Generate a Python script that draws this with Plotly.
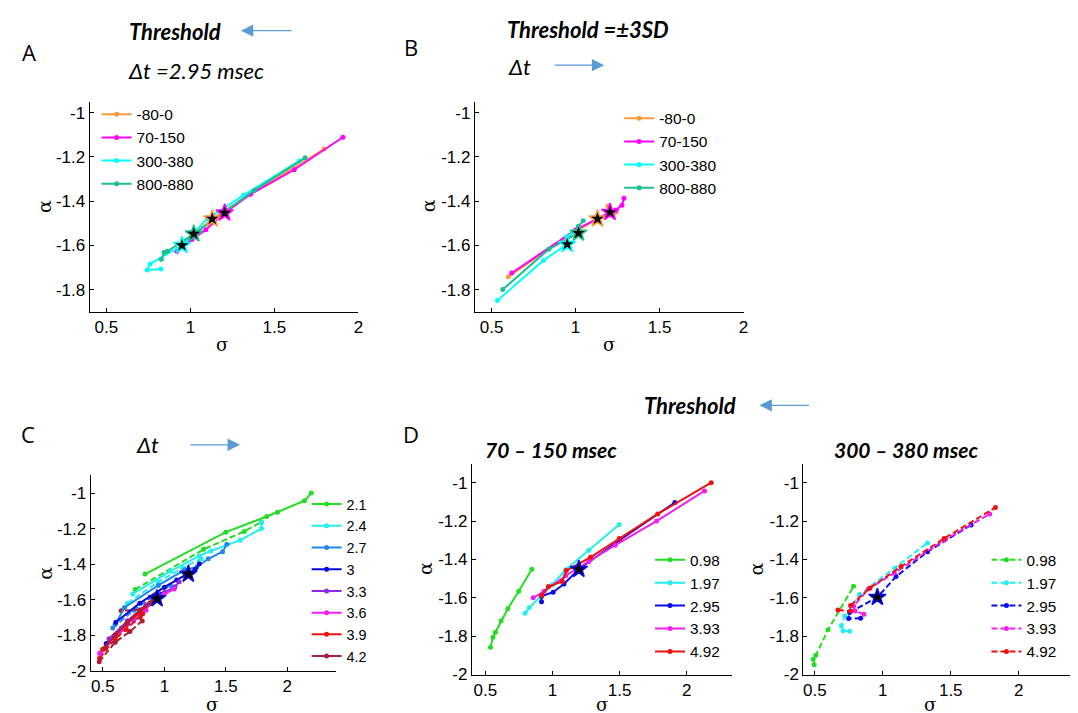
import plotly.graph_objects as go

W, H = 1078, 713

# ---------------- DATA ----------------
win_names = ["-80-0", "70-150", "300-380", "800-880"]
win_colors = ["#ff9a3c", "#ff00ff", "#00ffff", "#1dbf90"]

# Panel A (threshold varies, dt = 2.95 msec)
A_x = [
    [0.93, 0.97, 1.05, 1.13, 1.35, 1.58, 1.796],
    [0.92, 1.009, 1.092, 1.204, 1.358, 1.618, 1.908],
    [0.825, 0.743, 0.76, 0.95, 1.10, 1.317, 1.648],
    [0.827, 0.843, 0.863, 1.02, 1.20, 1.38, 1.683],
]
A_y = [
    [-1.61, -1.585, -1.535, -1.48, -1.37, -1.265, -1.164],
    [-1.627, -1.573, -1.529, -1.453, -1.369, -1.258, -1.111],
    [-1.707, -1.711, -1.684, -1.60, -1.48, -1.373, -1.218],
    [-1.663, -1.632, -1.627, -1.548, -1.45, -1.351, -1.204],
]
A_star_x = [1.13, 1.204, 0.95, 1.02]
A_star_y = [-1.48, -1.453, -1.60, -1.548]

# Panel B (threshold = +-3SD, dt varies)
B_x = [
    [0.60, 0.96, 1.13, 1.24, 1.193],
    [0.62, 1.00, 1.205, 1.24, 1.276, 1.288],
    [0.535, 0.81, 0.95, 0.95, 0.986],
    [0.566, 0.84, 1.017, 1.016, 1.045],
]
B_y = [
    [-1.742, -1.555, -1.48, -1.45, -1.422],
    [-1.725, -1.53, -1.45, -1.44, -1.418, -1.387],
    [-1.849, -1.667, -1.595, -1.56, -1.538],
    [-1.80, -1.618, -1.544, -1.515, -1.489],
]
B_star_x = [1.13, 1.205, 0.95, 1.017]
B_star_y = [-1.48, -1.45, -1.595, -1.544]

# Panel C (threshold levels, dt varies; solid = 70-150, dashed = 300-380)
C_names = ["2.1", "2.4", "2.7", "3", "3.3", "3.6", "3.9", "4.2"]
C_colors = ["#22dd22", "#22eeee", "#1f88f0", "#0a0ad8", "#8a2be2", "#f01ef0", "#ee1111", "#a8203a"]
C_solid_x = [
    [0.843, 1.50, 1.833, 1.92, 2.14, 2.195],
    [0.742, 1.05, 1.284, 1.378, 1.617, 1.79, 1.79],
    [0.60, 0.676, 0.95, 1.167, 1.265, 1.357, 1.473, 1.508],
    [0.605, 0.80, 1.00, 1.10, 1.195, 1.25, 1.284],
    [0.55, 0.70, 0.85, 1.00, 1.086, 1.12],
    [0.473, 0.60, 0.75, 0.90, 1.00, 1.08],
    [0.50, 0.60, 0.689, 0.80, 0.90, 0.95],
    [0.52, 0.60, 0.70, 0.80, 0.88],
]
C_solid_y = [
    [-1.456, -1.22, -1.132, -1.108, -1.043, -1.0],
    [-1.568, -1.44, -1.354, -1.326, -1.265, -1.20, -1.165],
    [-1.74, -1.644, -1.52, -1.432, -1.417, -1.37, -1.33, -1.288],
    [-1.728, -1.62, -1.53, -1.49, -1.456, -1.43, -1.398],
    [-1.82, -1.72, -1.63, -1.56, -1.528, -1.50],
    [-1.904, -1.80, -1.70, -1.62, -1.57, -1.54],
    [-1.88, -1.80, -1.74, -1.67, -1.61, -1.59],
    [-1.87, -1.80, -1.73, -1.66, -1.62],
]
C_dash_x = [
    [0.762, 1.319, 1.649, 1.79],
    [0.70, 0.95, 1.15, 1.30],
    [0.58, 0.75, 0.95, 1.05],
    [0.527, 0.70, 0.85, 0.94, 0.98],
    [0.50, 0.65, 0.80, 0.90],
    [0.48, 0.62, 0.75, 0.85],
    [0.473, 0.60, 0.689, 0.80, 0.824],
    [0.47, 0.60, 0.72, 0.82, 0.81, 0.648],
]
C_dash_y = [
    [-1.543, -1.317, -1.216, -1.163],
    [-1.62, -1.50, -1.42, -1.37],
    [-1.76, -1.66, -1.56, -1.52],
    [-1.848, -1.72, -1.64, -1.594, -1.57],
    [-1.88, -1.76, -1.67, -1.62],
    [-1.90, -1.80, -1.72, -1.66],
    [-1.93, -1.82, -1.768, -1.70, -1.68],
    [-1.95, -1.84, -1.78, -1.72, -1.657, -1.663],
]
C_star_x = [1.195, 0.94]
C_star_y = [-1.456, -1.594]

# Panel D (dt levels, threshold varies)
D_names = ["0.98", "1.97", "2.95", "3.93", "4.92"]
D_colors = ["#22dd22", "#22eeee", "#0a0af0", "#f01ef0", "#ee1111"]
DL_x = [
    [0.539, 0.557, 0.576, 0.618, 0.668, 0.749, 0.847],
    [0.796, 0.827, 1.00, 1.099, 1.271, 1.498],
    [0.919, 0.919, 1.005, 1.086, 1.197, 1.50, 1.912],
    [0.857, 0.938, 1.099, 1.271, 1.468, 1.776, 2.133],
    [0.919, 0.971, 1.074, 1.104, 1.283, 1.498, 1.784, 2.183],
]
DL_y = [
    [-1.858, -1.806, -1.78, -1.72, -1.657, -1.566, -1.451],
    [-1.681, -1.652, -1.532, -1.454, -1.352, -1.218],
    [-1.621, -1.592, -1.571, -1.528, -1.451, -1.30, -1.103],
    [-1.60, -1.566, -1.485, -1.412, -1.326, -1.20, -1.043],
    [-1.588, -1.541, -1.515, -1.458, -1.389, -1.291, -1.163, -1.0],
]
DL_star_x = [1.197]
DL_star_y = [-1.451]
DR_x = [
    [0.495, 0.488, 0.507, 0.597, 0.785],
    [0.756, 0.707, 0.695, 0.72, 0.829, 1.088, 1.329],
    [0.837, 0.749, 0.756, 0.96, 1.098, 1.329, 1.65],
    [0.861, 0.797, 0.785, 0.895, 1.085, 1.451, 1.787],
    [0.67, 0.763, 0.763, 0.905, 1.134, 1.451, 1.829],
]
DR_y = [
    [-1.949, -1.921, -1.90, -1.767, -1.54],
    [-1.775, -1.772, -1.746, -1.695, -1.583, -1.446, -1.314],
    [-1.707, -1.708, -1.677, -1.597, -1.489, -1.36, -1.22],
    [-1.686, -1.669, -1.643, -1.554, -1.471, -1.30, -1.163],
    [-1.664, -1.669, -1.64, -1.549, -1.437, -1.291, -1.129],
]
DR_star_x = [0.96]
DR_star_y = [-1.597]

x_ticks = [0.5, 1, 1.5, 2]
x_ticktext = ["0.5", "1", "1.5", "2"]
yAB_ticks = [-1, -1.2, -1.4, -1.6, -1.8]
yCD_ticks = [-1, -1.2, -1.4, -1.6, -1.8, -2]

# ---------------- FIGURE ----------------
fig = go.Figure()
TICKFONT = dict(family="Liberation Sans", size=17, color="black")


def px2x(p):
    return p / W


def px2y(p):
    return 1 - p / H


def add_axes(n, xdom, ydom, xr, yr, yticks):
    xs = "xaxis" if n == 1 else f"xaxis{n}"
    ys = "yaxis" if n == 1 else f"yaxis{n}"
    anc_y = "y" if n == 1 else f"y{n}"
    anc_x = "x" if n == 1 else f"x{n}"
    fig.layout[xs] = dict(domain=[px2x(xdom[0]), px2x(xdom[1])], range=xr, anchor=anc_y,
                          tickvals=x_ticks, ticktext=x_ticktext, ticks="inside", ticklen=4,
                          showline=True, linecolor="black", linewidth=1, showgrid=False,
                          zeroline=False, tickfont=TICKFONT, tickcolor="black")
    fig.layout[ys] = dict(domain=[px2y(ydom[1]), px2y(ydom[0])], range=yr, anchor=anc_x,
                          tickvals=yticks, ticktext=[("%g" % v) for v in yticks],
                          ticks="inside", ticklen=4, showline=True, linecolor="black",
                          linewidth=1, showgrid=False, zeroline=False, tickfont=TICKFONT,
                          tickcolor="black")


add_axes(1, (82, 352), (95, 308), [0.4, 2.0], [-1.9, -0.95], yAB_ticks)
add_axes(2, (469, 739), (95, 308), [0.4, 2.0], [-1.9, -0.95], yAB_ticks)
add_axes(3, (83, 330), (474, 672), [0.4, 2.4], [-2.0, -0.9], yCD_ticks)
add_axes(4, (466, 727), (462, 676), [0.4, 2.335], [-2.0, -0.9], yCD_ticks)
add_axes(5, (799, 1070), (462, 676), [0.415, 2.4], [-2.0, -0.9], yCD_ticks)


def series(xs, ys, color, name, ax, legend, showlegend=True, dash="solid"):
    axn = "" if ax == 1 else str(ax)
    fig.add_trace(go.Scatter(
        x=xs, y=ys, mode="lines+markers", name=name,
        line=dict(color=color, width=2, dash=dash),
        marker=dict(color=color, size=5),
        xaxis="x" + axn, yaxis="y" + axn, legend=legend, showlegend=showlegend))


def stars(xs, ys, colors, ax):
    axn = "" if ax == 1 else str(ax)
    fig.add_trace(go.Scatter(
        x=xs, y=ys, mode="markers", showlegend=False,
        marker=dict(symbol="star", size=13, color="black",
                    line=dict(color=colors, width=1.5)),
        xaxis="x" + axn, yaxis="y" + axn))


for i in range(4):
    series(A_x[i], A_y[i], win_colors[i], win_names[i], 1, "legend")
stars(A_star_x, A_star_y, win_colors, 1)

for i in range(4):
    series(B_x[i], B_y[i], win_colors[i], win_names[i], 2, "legend2")
stars(B_star_x, B_star_y, win_colors, 2)

for i in range(8):
    series(C_dash_x[i], C_dash_y[i], C_colors[i], C_names[i], 3, "legend3",
           showlegend=False, dash="6px,3px")
for i in range(8):
    series(C_solid_x[i], C_solid_y[i], C_colors[i], C_names[i], 3, "legend3")
stars(C_star_x, C_star_y, [C_colors[3], C_colors[3]], 3)

for i in range(5):
    series(DL_x[i], DL_y[i], D_colors[i], D_names[i], 4, "legend4")
stars(DL_star_x, DL_star_y, [D_colors[2]], 4)

for i in range(5):
    series(DR_x[i], DR_y[i], D_colors[i], D_names[i], 5, "legend5", dash="6px,3px")
stars(DR_star_x, DR_star_y, [D_colors[2]], 5)


def legend_at(left, top, size=15.5):
    return dict(x=px2x(left), y=px2y(top), xanchor="left", yanchor="top",
                bgcolor="rgba(0,0,0,0)", borderwidth=0, tracegroupgap=0,
                itemwidth=30, font=dict(family="Liberation Sans", size=size, color="black"))


fig.update_layout(
    width=W, height=H, margin=dict(l=0, r=0, t=0, b=0),
    paper_bgcolor="white", plot_bgcolor="white",
    legend=legend_at(89, 91),
    legend2=legend_at(614, 95),
    legend3=legend_at(300, 487, 14.4),
    legend4=legend_at(645, 543, 15.3),
    legend5=legend_at(983, 543, 15.3),
)

ann = []


def text(px, py, s, size, family="Lato", xanchor="left", angle=0, color="black"):
    ann.append(dict(x=px2x(px), y=px2y(py), xref="paper", yref="paper", text=s,
                    showarrow=False, xanchor=xanchor, yanchor="middle", textangle=angle,
                    borderpad=0, font=dict(family=family, size=size, color=color)))


def arrow(x_head, x_tail, py):
    ann.append(dict(x=px2x(x_head), y=px2y(py), ax=x_tail - x_head, ay=0,
                    xref="paper", yref="paper", axref="pixel", ayref="pixel",
                    text="", showarrow=True, arrowhead=2, arrowsize=1.9,
                    arrowwidth=1.3, arrowcolor="#5b9bd5"))


# panel letters
text(21, 45, "A", 22, family="Open Sans", xanchor="center")
text(405, 40, "B", 22, family="Open Sans", xanchor="center")
text(20, 432, "C", 22, family="Open Sans", xanchor="center")
text(405, 432, "D", 22, family="Open Sans", xanchor="center")

# headings
text(121, 24, "<b><i>Threshold</i></b>", 22)
arrow(234, 286, 23)
text(120, 63, "<i>\u0394t =2.95 msec</i>", 22)
text(500, 22, "<b><i>Threshold =\u00b13SD</i></b>", 22)
text(501, 59, "<i>\u0394t</i>", 22)
arrow(599, 548, 58)
text(128, 443, "<i>\u0394t</i>", 22)
arrow(233, 182, 443)
text(638, 403, "<b><i>Threshold</i></b>", 22)
arrow(755, 806, 403)
text(546, 448, "<b><i>70 \u2013 150 msec</i></b>", 21, xanchor="center")
text(902, 448, "<b><i>300 \u2013 380 msec</i></b>", 21, xanchor="center")

# axis labels
SER = "DejaVu Serif"
text(215, 341, "\u03c3", 18, family=SER, xanchor="center")
text(604, 341, "\u03c3", 18, family=SER, xanchor="center")
text(205, 706, "\u03c3", 18, family=SER, xanchor="center")
text(597, 706, "\u03c3", 18, family=SER, xanchor="center")
text(926, 706, "\u03c3", 18, family=SER, xanchor="center")
text(36, 201, "\u03b1", 19, family=SER, xanchor="center", angle=-90)
text(422, 201, "\u03b1", 19, family=SER, xanchor="center", angle=-90)
text(37, 573, "\u03b1", 19, family=SER, xanchor="center", angle=-90)
text(419, 569, "\u03b1", 19, family=SER, xanchor="center", angle=-90)
text(752, 569, "\u03b1", 19, family=SER, xanchor="center", angle=-90)

fig.update_layout(annotations=ann)
fig.write_html("out.html")
